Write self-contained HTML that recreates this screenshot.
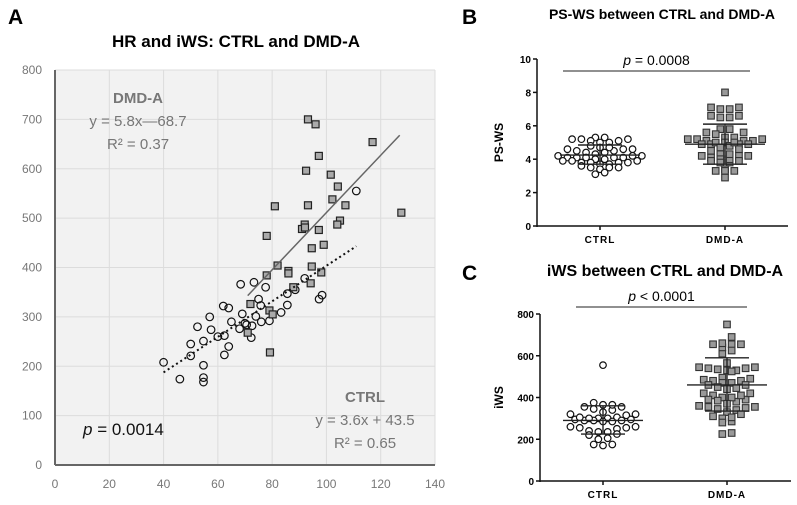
<!DOCTYPE html>
<html><head><meta charset="utf-8">
<style>
body{margin:0;background:#fff;}
svg{display:block;font-family:"Liberation Sans",Arial,sans-serif;}
</style></head>
<body>
<svg id="fig" width="797" height="505" viewBox="0 0 797 505"></svg>
<script>
// ---------- Panel A data ----------
const ctrlHR=[40,46,50,50,52.5,54.7,54.7,54.7,54.7,57,57.5,60,62,62.4,62.4,64,64,65,68,68.4,69,70,70.6,72.3,72.6,73.3,74,75,75.8,76,77.6,79,83.3,85.6,85.6,88.5,92,97.3,98.4,111];
const ctrlIWS=[208,174,245,221,280,251,202,177,168,300,274,260,322,262,223,318,240,290,276,366,306,287,284,258,282,370,301,336,323,290,360,292,309,347,324,355,378,336,344,555];
const dmdHR=[93.2,96,117,97.2,92.5,101.6,104.2,102.2,81,93.2,107,127.6,105,104,92,91,92.1,97.2,78,99,94.6,82,94.6,86,86,98.1,78,94.2,87.8,72,79,80.2,71,79.2];
const dmdIWS=[700,690,654,626,596,588,564,538,524,526,526,511,495,487,487,478,481,476,464,446,439,404,402,393,388,390,384,368,360,326,313,305,268,228];
const xTicksA=[0,20,40,60,80,100,120,140];
const yTicksA=[0,100,200,300,400,500,600,700,800];
const fitDMD=[5.8,-68.7,71,127];
const fitCTRL=[3.6,43.5,40,111];
// ---------- Panel B data ----------
const groupsB=["CTRL","DMD-A"];
const psCTRL=[5.3,5.2,5.2,5.1,5.0,5.0,5.1,5.2,5.3,4.8,4.6,4.5,4.6,4.7,4.4,4.4,4.5,4.6,4.7,4.3,4.2,4.2,4.1,4.1,4.1,4.0,4.0,4.1,4.2,4.1,3.9,3.9,3.8,3.8,3.8,3.7,3.7,3.8,3.9,3.5,3.4,3.5,3.6,3.5,3.2,3.1];
const psDMD=[8.0,7.1,7.0,7.0,7.1,6.6,6.5,6.5,6.6,5.8,5.8,5.6,5.5,5.3,5.2,5.2,5.1,5.1,5.1,5.2,5.3,5.6,5.0,4.9,4.9,4.8,4.9,5.0,5.0,4.9,4.7,4.6,4.5,4.3,4.2,4.2,4.1,4.0,3.9,3.8,3.8,3.9,4.0,4.2,4.3,3.4,3.3,3.3,3.3,2.9];
const psStats=[[4.25,4.85,3.7],[4.9,6.1,3.7]];
const yTicksB=[0,2,4,6,8,10];
// ---------- Panel C data ----------
const iwsCTRL=[555,375,365,355,345,330,320,320,340,355,365,305,300,300,295,290,290,285,285,290,295,300,305,315,260,255,250,240,235,225,220,235,255,260,205,200,175,170,175];
const iwsDMD=[750,690,655,655,625,610,640,655,660,565,540,530,545,540,535,545,530,525,495,480,470,470,480,490,485,460,450,445,440,460,420,410,400,390,385,380,390,400,410,420,370,355,350,345,340,355,360,330,320,310,300,285,280,305,225,230];
const iwsStats=[[290,360,225],[460,590,335]];
const yTicksC=[0,200,400,600,800];

const NS="http://www.w3.org/2000/svg";
const svg=document.getElementById('fig');
function mk(tag,attrs,parent,text){const e=document.createElementNS(NS,tag);for(const k in attrs)e.setAttribute(k,attrs[k]);if(text!==undefined)e.textContent=text;(parent||svg).appendChild(e);return e;}

// ===== Panel A =====
const ax=v=>55+v*(380/140), ay=v=>465-v*(395/800);
const gA=mk('g',{});

let t=mk('text',{x:8,y:24,'font-size':21,'font-weight':'bold'},gA,'A');

t=mk('text',{x:236,y:47,'font-size':17,'font-weight':'bold','text-anchor':'middle'},gA,'HR and iWS: CTRL and DMD-A');

let r=mk('rect',{x:ax(0),y:ay(800),width:ax(140)-ax(0),height:ay(0)-ay(800),fill:'#f2f2f2'},gA);

xTicksA.forEach(v=>{let l=mk('line',{x1:ax(v),x2:ax(v),y1:ay(0),y2:ay(800),stroke:'#dcdcdc','stroke-width':1},gA);
 
 let tx=mk('text',{x:ax(v),y:488,'font-size':12,fill:'#777','text-anchor':'middle'},gA,String(v));
 });
yTicksA.forEach(v=>{let l=mk('line',{x1:ax(0),x2:ax(140),y1:ay(v),y2:ay(v),stroke:'#dcdcdc','stroke-width':1},gA);
 
 let tx=mk('text',{x:42,y:ay(v)+4,'font-size':12,fill:'#777','text-anchor':'end'},gA,String(v));
 });
let axl=mk('line',{x1:ax(0),x2:ax(0),y1:ay(800),y2:ay(0),stroke:'#666','stroke-width':2},gA);

axl=mk('line',{x1:ax(0),x2:ax(140),y1:ay(0),y2:ay(0),stroke:'#666','stroke-width':2},gA);

ctrlHR.forEach((v,i)=>{let c=mk('circle',{cx:ax(v),cy:ay(ctrlIWS[i]),r:3.8,fill:'none',stroke:'#111','stroke-width':1.2},gA);
 });
dmdHR.forEach((v,i)=>{let s=mk('rect',{x:ax(v)-3.5,y:ay(dmdIWS[i])-3.5,width:7,height:7,fill:'#aaa',stroke:'#222','stroke-width':1.2},gA);
 });
let fl=mk('line',{x1:ax(fitDMD[2]),y1:ay(fitDMD[0]*fitDMD[2]+fitDMD[1]),x2:ax(fitDMD[3]),y2:ay(fitDMD[0]*fitDMD[3]+fitDMD[1]),stroke:'#666','stroke-width':1.5},gA);

fl=mk('line',{x1:ax(fitCTRL[2]),y1:ay(fitCTRL[0]*fitCTRL[2]+fitCTRL[1]),x2:ax(fitCTRL[3]),y2:ay(fitCTRL[0]*fitCTRL[3]+fitCTRL[1]),stroke:'#111','stroke-width':2,'stroke-dasharray':'2 3'},gA);

[[138,103,'DMD-A',true],[138,126,'y = 5.8x—68.7'],[138,149,'R² = 0.37'],[365,402,'CTRL',true],[365,425,'y = 3.6x + 43.5'],[365,448,'R² = 0.65']].forEach(a=>{
 let tx=mk('text',{x:a[0],y:a[1],'font-size':15,fill:'#777','text-anchor':'middle','font-weight':a[3]?'bold':'normal'},gA,a[2]);
 });
t=mk('text',{x:83,y:435,'font-size':17,fill:'#111'},gA);

mk('tspan',{'font-style':'italic'},t,'p');mk('tspan',{},t,' = 0.0014');

// ===== swarm panels =====
function swarm(vals,cx,yf,bin,sp){
 const bins={};const out=[];
 vals.forEach((v,i)=>{const b=Math.floor(v/bin);(bins[b]=bins[b]||[]).push(i);});
 Object.values(bins).forEach(list=>{
  list.sort((a,b)=>vals[a]-vals[b]);
  const n=list.length;
  const ord=[];list.forEach((idx,k)=>{ if(k%2) ord.push(idx); else ord.unshift(idx);});
  ord.forEach((idx,k)=>{out[idx]=[cx+(k-(n-1)/2)*sp,yf(vals[idx])];});
 });
 return out;}
function panel(o){
 const g=mk('g',{});
 
 const yf=v=>o.y0-(v/o.max)*(o.y0-o.y1);
 let tx=mk('text',{x:o.lx,y:o.ly,'font-size':21,'font-weight':'bold'},g,o.letter);
 
 tx=mk('text',{x:o.tx,y:o.ty,'font-size':o.tfs,'font-weight':'bold','text-anchor':'middle'},g,o.title);
 
 let l=mk('line',{x1:o.ax,x2:o.ax,y1:o.y1,y2:o.y0+1,stroke:'#111','stroke-width':1.5},g);
 
 l=mk('line',{x1:o.ax,x2:o.axEnd,y1:o.y0,y2:o.y0,stroke:'#111','stroke-width':1.5},g);
 
 o.ticks.forEach(v=>{let tl=mk('line',{x1:o.ax-4,x2:o.ax,y1:yf(v),y2:yf(v),stroke:'#111','stroke-width':1.5},g);
  
  let tt=mk('text',{x:o.ax-6,y:yf(v)+4,'font-size':10,'font-weight':'bold','text-anchor':'end'},g,String(v));
  });
 let yt=mk('text',{x:0,y:0,'font-size':12,'font-weight':'bold','text-anchor':'middle',transform:`translate(${o.ytx},${(o.y0+o.y1)/2}) rotate(-90)`},g,o.ylabel);
 
 groupsB.forEach((gname,gi)=>{const cx=o.cx[gi];
  let tl=mk('line',{x1:cx,x2:cx,y1:o.y0,y2:o.y0+4,stroke:'#111','stroke-width':1.5},g);
  
  let tt=mk('text',{x:cx,y:o.y0+17,'font-size':10,'font-weight':'bold','text-anchor':'middle','letter-spacing':'1'},g,gname);
  
  const vals=gi?o.dmd:o.ctrl;
  swarm(vals,cx,yf,o.bin,9.3).forEach(p=>{
   if(gi){let s=mk('rect',{x:p[0]-3.3,y:p[1]-3.3,width:6.6,height:6.6,fill:'#999',stroke:'#333','stroke-width':1.1},g);
    }
   else{let c=mk('circle',{cx:p[0],cy:p[1],r:3.3,fill:'#fff',stroke:'#111','stroke-width':1.2},g);
    }});
  const st=o.stats[gi];
  let ml=mk('line',{x1:cx-40,x2:cx+40,y1:yf(st[0]),y2:yf(st[0]),stroke:'#222','stroke-width':1.4},g);
  
  let el=mk('line',{x1:cx,x2:cx,y1:yf(st[1]),y2:yf(st[2]),stroke:'#222','stroke-width':1.4},g);
  
  [st[1],st[2]].forEach(v=>{let c=mk('line',{x1:cx-22,x2:cx+22,y1:yf(v),y2:yf(v),stroke:'#222','stroke-width':1.4},g);
   });});
 let pl=mk('line',{x1:o.px1,x2:o.px2,y1:o.py,y2:o.py,stroke:'#222','stroke-width':1},g);
 
 let pt=mk('text',{x:(o.px1+o.px2)/2,y:o.py-6,'font-size':14,'text-anchor':'middle'},g);
 
 mk('tspan',{'font-style':'italic'},pt,'p');mk('tspan',{},pt,o.ptext);
}
panel({name:'panel-b',letter:'B',lx:462,ly:24,title:'PS-WS between CTRL and DMD-A',tx:662,ty:19,tfs:14,
 ax:537,axEnd:788,y0:226,y1:59,max:10,ticks:yTicksB,ylabel:'PS-WS',ytx:503,cx:[600,725],bin:0.33,
 ctrl:psCTRL,dmd:psDMD,stats:psStats,px1:563,px2:750,py:71,ptext:' = 0.0008'});
panel({name:'panel-c',letter:'C',lx:462,ly:280,title:'iWS between CTRL and DMD-A',tx:665,ty:276,tfs:16,
 ax:540,axEnd:791,y0:481,y1:314,max:800,ticks:yTicksC,ylabel:'iWS',ytx:503,cx:[603,727],bin:33,
 ctrl:iwsCTRL,dmd:iwsDMD,stats:iwsStats,px1:576,px2:747,py:307,ptext:' < 0.0001'});
</script>
</body></html>
